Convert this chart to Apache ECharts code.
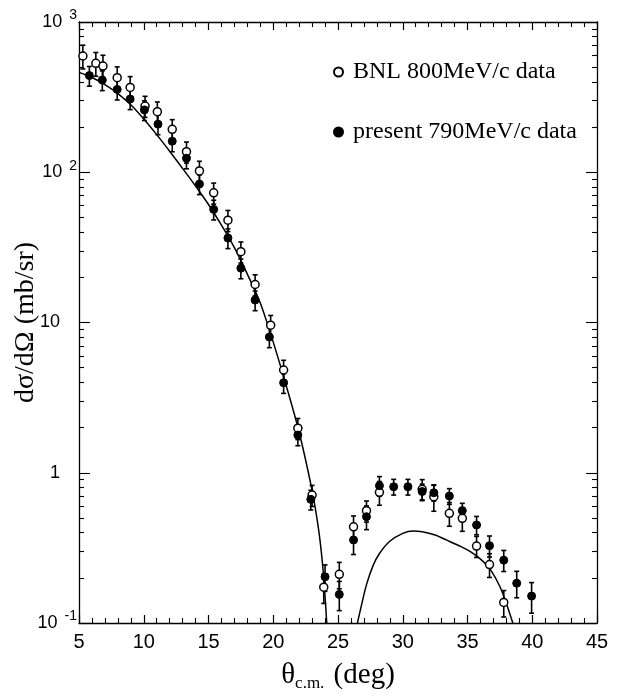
<!DOCTYPE html>
<html>
<head>
<meta charset="utf-8">
<script src="https://cdn.jsdelivr.net/npm/echarts@6/dist/echarts.min.js"></script>
<style>
  html, body { margin: 0; padding: 0; background: #fff; }
  #chart { width: 625px; height: 700px; }
</style>
</head>
<body>
<div id="chart"></div>
<script>
// BNL 800 MeV/c data (open circles)
var bnlAngle = [5.3, 6.3, 6.85, 7.95, 8.95, 10.1, 11.05, 12.2, 13.3, 14.3, 15.4, 16.5, 17.5, 18.6, 19.8,
  20.8, 21.9, 23.0, 23.9, 25.1, 26.2, 27.2, 28.2, 31.5, 32.4, 33.6, 34.6, 35.7, 36.7, 37.8]
var bnlXs = [594, 531, 509, 426, 367, 276, 253, 193, 137, 102, 73, 48, 29.6, 17.9, 9.6,
  4.83, 1.98, 0.71, 0.173, 0.211, 0.437, 0.559, 0.741, 0.776, 0.693, 0.537, 0.497, 0.325, 0.245, 0.137]
var bnlErr = [0.18, 0.18, 0.18, 0.18, 0.18, 0.16, 0.16, 0.16, 0.16, 0.16, 0.16, 0.16, 0.16, 0.16, 0.16,
  0.16, 0.16, 0.16, 0.22, 0.2, 0.18, 0.16, 0.18, 0.16, 0.2, 0.18, 0.18, 0.16, 0.18, 0.2]

// present 790 MeV/c data (filled circles)
var presAngle = [5.8, 6.8, 7.95, 8.95, 10.05, 11.1, 12.2, 13.3, 14.3, 15.4, 16.5, 17.5, 18.6, 19.7,
  20.8, 21.9, 22.9, 24.0, 25.1, 26.2, 27.2, 28.2, 29.3, 30.4, 31.5, 32.4, 33.6, 34.6, 35.7, 36.7,
  37.8, 38.8, 39.95]
var presXs = [440, 411, 356, 307, 260, 209, 161, 124, 83.5, 56.6, 36.5, 23, 14.1, 8.0,
  3.97, 1.78, 0.665, 0.203, 0.155, 0.357, 0.51, 0.82, 0.807, 0.807, 0.75, 0.736, 0.70, 0.559, 0.449, 0.327,
  0.262, 0.184, 0.151]
var presErr = [0.15, 0.15, 0.15, 0.15, 0.15, 0.15, 0.15, 0.15, 0.15, 0.15, 0.15, 0.15, 0.15, 0.15,
  0.15, 0.15, 0.15, 0.2, 0.22, 0.2, 0.18, 0.15, 0.12, 0.12, 0.12, 0.12, 0.12, 0.12, 0.14, 0.16,
  0.16, 0.2, 0.23]

// theory curve, two lobes
var theoryAngle1 = [5, 6, 7, 8, 9, 10, 11, 12, 13, 14, 15, 16, 17, 18, 19, 20, 21, 22, 23, 23.5, 23.8, 24.0, 24.13]
var theoryXs1 = [462, 427, 383, 334, 281, 226, 178, 138, 106, 81, 61, 44.5, 31.5, 21, 13.5, 7.4, 3.8, 1.86, 0.76, 0.42, 0.25, 0.15, 0.1]
var theoryAngle2 = [26.5, 26.8, 27.2, 27.7, 28.2, 29, 30, 30.8, 31.5, 32.5, 33.4, 34.5, 35.45, 36.2, 36.8, 37.5, 38.0, 38.5]
var theoryXs2 = [0.1, 0.13, 0.18, 0.24, 0.29, 0.35, 0.395, 0.41, 0.405, 0.385, 0.356, 0.322, 0.29, 0.257, 0.225, 0.175, 0.135, 0.1]

var yDecades = [0.1, 1, 10, 100, 1000]
var xTickStep = 5

var names = ['BNL 800MeV/c data', 'present 790MeV/c data']

var yMinor = []
for (var d = 0; d < yDecades.length - 1; d++) {
  for (var k = 2; k <= 9; k++) yMinor.push(+(yDecades[d] * k).toPrecision(3))
}

function zip (a, b, c) {
  return a.map(function (v, i) { return c ? [v, b[i], c[i]] : [v, b[i]] })
}

function errBars (params, api) {
  var x = api.value(0)
  var y = api.value(1)
  var e = api.value(2)
  var hi = api.coord([x, y * (1 + e)])
  var lo = api.coord([x, y * (1 - e)])
  var w = 2.5
  var st = { stroke: '#000', lineWidth: 1.6 }
  return {
    type: 'group',
    children: [
      { type: 'line', shape: { x1: hi[0], y1: hi[1], x2: lo[0], y2: lo[1] }, style: st },
      { type: 'line', shape: { x1: hi[0] - w, y1: hi[1], x2: hi[0] + w, y2: hi[1] }, style: st },
      { type: 'line', shape: { x1: lo[0] - w, y1: lo[1], x2: lo[0] + w, y2: lo[1] }, style: st }
    ]
  }
}

var axisLineStyle = { show: true, lineStyle: { color: '#000', width: 1.3 } }
var xBase = {
  type: 'value',
  min: 5,
  max: 45,
  interval: xTickStep,
  splitLine: { show: false },
  axisLine: axisLineStyle,
  axisTick: { inside: true, length: 8, lineStyle: { color: '#000', width: 1.2 } },
  minorTick: { show: true, splitNumber: 5, length: 5, lineStyle: { color: '#000', width: 1.1 } }
}

function yAxisDef (pos, minor) {
  var ax = {
    type: 'log',
    logBase: 10,
    min: 0.1,
    max: 1000,
    position: pos,
    splitLine: { show: false },
    axisLine: minor ? { show: false } : axisLineStyle,
    axisTick: { inside: true, length: minor ? 5 : 11, lineStyle: { color: '#000', width: 1.1 } },
    axisLabel: { show: false }
  }
  if (minor) ax.axisTick.customValues = yMinor
  return ax
}

var yMain = yAxisDef('left', false)
yMain.axisLabel = {
  show: true,
  margin: 2,
  color: '#000',
  fontFamily: 'Liberation Sans',
  fontSize: 18,
  formatter: function (v) {
    var e = Math.round(Math.log10(v))
    if (e === 0) return '1{p| }'
    if (e === 1) return '10{p| }'
    return '10{s|' + e + '}'
  },
  rich: {
    s: { fontSize: 14, fontFamily: 'Liberation Sans', color: '#000', padding: [0, 0, 13, 7] },
    p: { width: 17, fontSize: 13 }
  }
}
yMain.name = 'dσ/dΩ (mb/sr)'
yMain.nameLocation = 'middle'
yMain.nameGap = 39
yMain.nameMoveOverlap = false
yMain.nameTextStyle = { fontFamily: 'Liberation Serif', fontSize: 28, color: '#000' }

var xMain = Object.assign({}, xBase, {
  position: 'bottom',
  axisLabel: { color: '#000', fontFamily: 'Liberation Sans', fontSize: 20, margin: 9 },
  name: 'θ{sub|c.m.} (deg)',
  nameLocation: 'middle',
  nameGap: 36,
  nameMoveOverlap: false,
  nameTextStyle: {
    fontFamily: 'Liberation Serif', fontSize: 29, color: '#000', verticalAlign: 'top',
    rich: { sub: { fontFamily: 'Liberation Serif', fontSize: 17, color: '#000', padding: [16, 2, 0, 0] } }
  }
})
var xTop = Object.assign({}, xBase, { position: 'top', axisLabel: { show: false } })

var chart = echarts.init(document.getElementById('chart'), null, { renderer: 'canvas' })
chart.setOption({
  animation: false,
  backgroundColor: '#fff',
  grid: { left: 79, right: 28, top: 22, bottom: 77, containLabel: false, outerBoundsMode: 'none' },
  legend: {
    data: names,
    orient: 'vertical',
    left: 328,
    top: 55,
    itemGap: 36,
    itemWidth: 9,
    itemHeight: 9,
    textStyle: { fontFamily: 'Liberation Serif', fontSize: 24, color: '#000', lineHeight: 24, padding: [0, 0, 0, 5] }
  },
  xAxis: [xMain, xTop],
  yAxis: [yMain, yAxisDef('left', true), yAxisDef('right', false), yAxisDef('right', true)],
  series: [
    {
      type: 'line',
      data: zip(theoryAngle1, theoryXs1),
      smooth: 0.3,
      showSymbol: false,
      lineStyle: { color: '#000', width: 1.5 },
      z: 1
    },
    {
      type: 'line',
      data: zip(theoryAngle2, theoryXs2),
      smooth: 0.3,
      showSymbol: false,
      lineStyle: { color: '#000', width: 1.5 },
      z: 1
    },
    { type: 'custom', renderItem: errBars, data: zip(bnlAngle, bnlXs, bnlErr), clip: true, z: 2 },
    { type: 'custom', renderItem: errBars, data: zip(presAngle, presXs, presErr), clip: true, z: 2 },
    {
      name: names[0],
      type: 'scatter',
      data: zip(bnlAngle, bnlXs),
      symbolSize: 8,
      itemStyle: { color: '#fff', borderColor: '#000', borderWidth: 1.5, opacity: 1 },
      z: 3
    },
    {
      name: names[1],
      type: 'scatter',
      data: zip(presAngle, presXs),
      symbolSize: 8,
      itemStyle: { color: '#000', borderColor: '#000', borderWidth: 1, opacity: 1 },
      z: 3
    }
  ]
})
</script>
</body>
</html>
